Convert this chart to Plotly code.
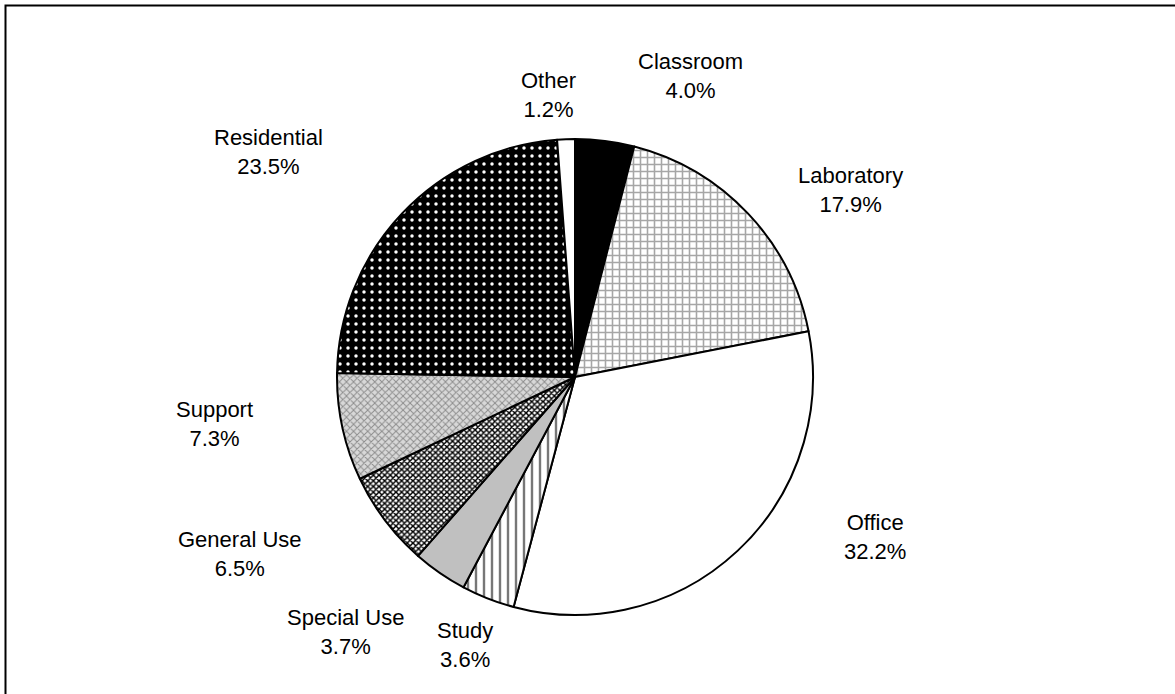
import plotly.graph_objects as go

categories = ["Classroom", "Laboratory", "Office", "Study", "Special Use",
              "General Use", "Support", "Residential", "Other"]
shares = [4.0, 17.9, 32.2, 3.6, 3.7, 6.5, 7.3, 23.5, 1.2]

# Styling (patterns per slice)
pat_shape = ["", "+", "", "|", "", "x", "x", ".", ""]
pat_fg = ["black", "#a6a6a6", "white", "#777777", "#c0c0c0", "black", "#8c8c8c", "white", "white"]
pat_bg = ["black", "white", "white", "white", "#c0c0c0", "white", "#d8d8d8", "black", "white"]
pat_size = [7, 7, 8, 8, 8, 4, 5, 8, 8]
pat_solid = [0.3, 0.4, 0.3, 0.3, 0.3, 0.6, 0.35, 0.15, 0.3]

W, H = 1175, 694
# label anchor positions in pixels (layout)
label_px = [(690, 76), (850, 190), (875, 537), (465, 645), (345, 632),
            (240, 554), (215, 424), (268, 152), (548, 95)]

cx, cy, r = 575, 377, 238

fig = go.Figure(go.Pie(
    labels=categories,
    values=shares,
    sort=False,
    direction="clockwise",
    rotation=0,
    textinfo="none",
    hoverinfo="label+percent",
    marker=dict(
        colors=pat_bg,
        line=dict(color="black", width=2),
        pattern=dict(shape=pat_shape, fgcolor=pat_fg, bgcolor=pat_bg,
                     size=pat_size, solidity=pat_solid, fillmode="replace"),
    ),
    domain=dict(x=[(cx - r) / W, (cx + r) / W], y=[(H - cy - r) / H, (H - cy + r) / H]),
))

annotations = []
for name, val, (px, py) in zip(categories, shares, label_px):
    annotations.append(dict(
        x=px / W, y=1 - py / H, xref="paper", yref="paper",
        text=f"{name}<br>{val:.1f}%", showarrow=False,
        xanchor="center", yanchor="middle",
        font=dict(family="Liberation Sans, Arial", size=22, color="black"),
    ))

fig.update_layout(
    width=W, height=H,
    margin=dict(l=0, r=0, t=0, b=0),
    paper_bgcolor="white",
    plot_bgcolor="white",
    showlegend=False,
    annotations=annotations,
    shapes=[dict(type="rect", xref="paper", yref="paper",
                 x0=5.5 / W, x1=1.05, y0=-0.05, y1=1 - 5.5 / H,
                 line=dict(color="black", width=2), fillcolor="rgba(0,0,0,0)")],
)

fig.write_html("out.html", config={"displayModeBar": False},
               post_script="document.body.style.margin='0';")
